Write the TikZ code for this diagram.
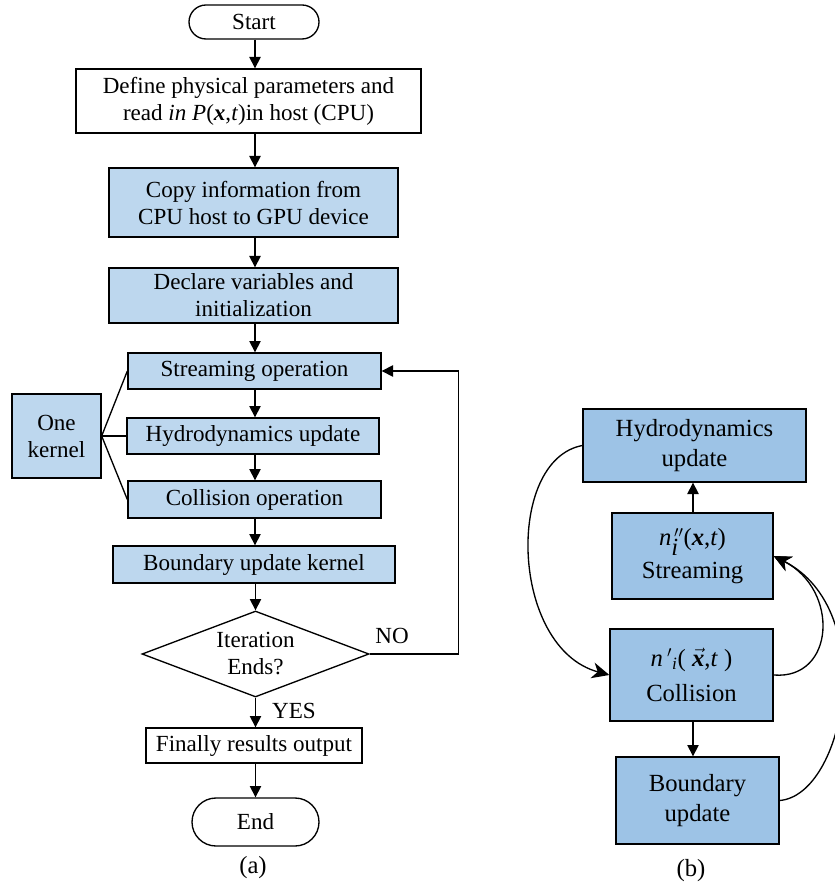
\documentclass[tikz,border=0pt]{standalone}
\usepackage{fontspec}
\setmainfont{LiberationSerif}[Extension=.ttf, UprightFont=*-Regular, BoldFont=*-Bold, ItalicFont=*-Italic, BoldItalicFont=*-BoldItalic]
\usetikzlibrary{arrows.meta,shapes.geometric}
\definecolor{blueA}{RGB}{189,215,238}
\definecolor{blueB}{RGB}{157,195,230}
\begin{document}
\begin{tikzpicture}[x=0.75pt,y=-0.75pt,
  every node/.style={font=\fontsize{17.3}{20.25}\selectfont},
  fontB/.style={font=\fontsize{18.5}{22.5}\selectfont},
  whitebox/.style={draw, line width=1pt, fill=white, inner sep=0pt, align=center},
  boxA/.style={draw, line width=1pt, fill=blueA, inner sep=0pt, align=center},
  boxB/.style={draw, line width=1pt, fill=blueB, inner sep=0pt, align=center, fontB},
  term/.style={draw, line width=1pt, fill=white, inner sep=0pt, align=center},
  decision/.style={draw, line width=1pt, diamond, fill=white, inner sep=0pt},
  arr/.style={line width=1pt, -{Triangle[length=8.5pt, width=8.5pt]}},
  carr/.style={line width=1pt, -{Stealth[length=13pt, width=12pt, inset=4pt]}},
  plain/.style={line width=1pt}]
\useasboundingbox (0,0) rectangle (834,887);
\coordinate (colx) at (255,0);
\coordinate (colb) at (693,0);

% ---- panel (a) ----
\node[term, rounded corners=12.75pt, minimum width=97.5pt, minimum height=25.5pt] (start) at (254,22) {Start};
\node[whitebox, minimum width=258.75pt, minimum height=48pt] (define) at (248.5,101)
  {Define physical parameters and\\read \textit{in P}(\textbf{\textit{x}},\textit{t})in host (CPU)};
\node[boxA, minimum width=216.75pt, minimum height=51.75pt] (copy) at (253.5,202.5)
  {Copy information from\\CPU host to GPU device};
\node[boxA, minimum width=216.75pt, minimum height=41.25pt] (declare) at (253.5,295.5)
  {Declare variables and\\initialization};
\node[boxA, minimum width=189.75pt, minimum height=27pt] (stream) at (254.5,371) {Streaming operation};
\node[boxA, minimum width=189pt, minimum height=27pt] (hydro) at (253,436) {Hydrodynamics update};
\node[boxA, minimum width=189.75pt, minimum height=27.75pt] (coll) at (254.5,499.5) {Collision operation};
\node[boxA, minimum width=211.5pt, minimum height=27.75pt] (bound) at (254,564.5) {Boundary update kernel};
\node[boxA, minimum width=66.75pt, minimum height=63pt] (onek) at (56.5,436) {One\\kernel};
\node[decision, minimum width=170.25pt, minimum height=64.5pt] (dec) at (255.5,654) {};
\node[align=center, inner sep=0pt] (dectext) at (255.5,654) {Iteration\\Ends?};
\node[whitebox, minimum width=162pt, minimum height=26.25pt] (final) at (254,745.5) {Finally results output};
\node[term, rounded corners=18pt, minimum width=95.25pt, minimum height=36pt] (end) at (255.5,822) {End};
\node[inner sep=0pt] (no) at (392,636) {NO};
\node[inner sep=0pt] (yes) at (294,711) {YES};
\node[inner sep=0pt, font=\fontsize{18.5}{22}\selectfont] (capa) at (253,868) {(a)};

\draw[arr] (start.south -| colx) -- (define.north -| colx);
\draw[arr] (define.south -| colx) -- (copy.north -| colx);
\draw[arr] (copy.south -| colx) -- (declare.north -| colx);
\draw[arr] (declare.south -| colx) -- (stream.north -| colx);
\draw[arr] (stream.south -| colx) -- (hydro.north -| colx);
\draw[arr] (hydro.south -| colx) -- (coll.north -| colx);
\draw[arr] (coll.south -| colx) -- (bound.north -| colx);
\draw[arr] (bound.south -| dec.north) -- (dec.north);
\draw[arr] (dec.south) -- (dec.south |- final.north);
\draw[arr] (final.south -| end.north) -- (end.north);
\draw[arr] (dec.east) -- ++(89,0) |- (stream.east);
\draw[plain] (onek.east) -- (stream.west);
\draw[plain] (onek.east) -- (hydro.west);
\draw[plain] (onek.east) -- (coll.west);

% ---- panel (b) ----
\node[boxB, minimum width=167.25pt, minimum height=54.75pt] (hydroB) at (694.5,445.5) {Hydrodynamics\\update};
\node[boxB, minimum width=120.75pt, minimum height=64.5pt] (streamB) at (692.5,556)
  {\textit{n}$_{\textit{i}}^{\,\prime\prime}$(\textbf{\textit{x}},\textit{t})\\[2pt]Streaming};
\node[boxB, minimum width=122.25pt, minimum height=69pt] (collB) at (691.5,675)
  {\textit{n}\,$'$\textsubscript{\textit{i}}( $\vec{\mbox{\textbf{\textit{x}}}}$,\textit{t} )\\[4pt]Collision};
\node[boxB, minimum width=122.25pt, minimum height=65.25pt] (boundB) at (697.5,800.5) {Boundary\\update};
\node[inner sep=0pt, font=\fontsize{18.5}{22}\selectfont] (capb) at (691,871) {(b)};

\draw[arr] (streamB.north -| colb) -- (hydroB.south -| colb);
\draw[arr] (collB.south -| colb) -- (boundB.north -| colb);
\draw[carr] (hydroB.west) .. controls (505,460) and (510,648) .. (collB.west);
\draw[carr] (collB.east) .. controls (835,680) and (840,590) .. (streamB.east);
\draw[carr] (boundB.east) .. controls (845,795) and (880,610) .. (streamB.east);
\end{tikzpicture}
\end{document}
